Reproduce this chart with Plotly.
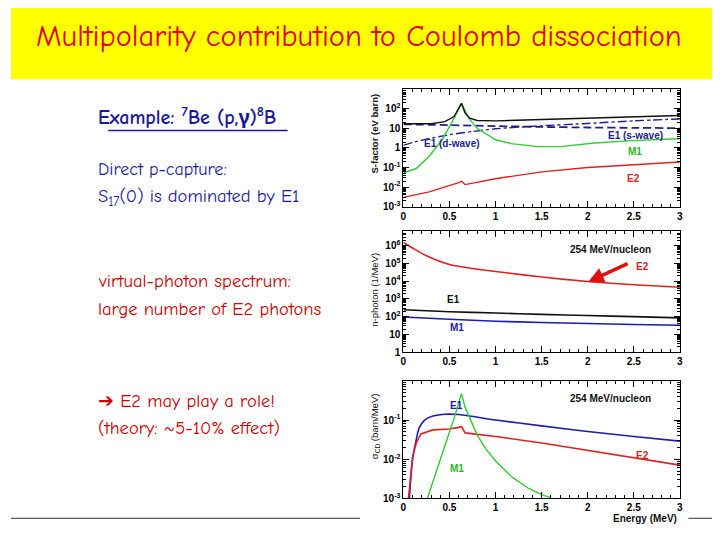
import plotly.graph_objects as go
import math

W, H = 720, 540

# ---------------- data ----------------
# Panel 1: S-factor (eV barn)
s_tot_E = [0, 0.3, 0.45, 0.55, 0.6, 0.63, 0.67, 0.72, 0.8, 1.0, 1.5, 2.0, 2.5, 3.0]
s_tot = [17, 17, 22, 40, 105, 186, 59, 33, 25, 24, 28, 33, 38, 45]
s_E1s_E = [0, 0.5, 1.0, 1.5, 2.0, 2.5, 3.0]
s_E1s = [16, 14.5, 13, 11.8, 11, 10.6, 10.2]
s_E1d_E = [0, 0.1, 0.25, 0.5, 0.75, 1.0, 1.5, 2.0, 2.5, 3.0]
s_E1d = [1.35, 1.9, 2.8, 4.7, 6.9, 9.5, 13.5, 17.7, 24, 30]
s_M1_E = [0, 0.14, 0.28, 0.42, 0.53, 0.58, 0.63, 0.71, 0.8, 1.0, 1.17, 1.46, 1.71, 2.07, 2.43, 2.96, 3.0]
s_M1 = [0.054, 0.089, 0.38, 2.6, 22, 71, 186, 33, 10, 2.6, 1.66, 1.17, 1.17, 1.78, 2.3, 2.95, 2.97]
s_E2_E = [0, 0.28, 0.6, 0.63, 0.67, 0.8, 1.0, 1.5, 2.0, 2.5, 3.0]
s_E2 = [0.0030, 0.0057, 0.017, 0.020, 0.0135, 0.018, 0.027, 0.06, 0.10, 0.14, 0.19]

# Panel 2: n-photon (1/MeV)
n_E2_E = [0, 0.1, 0.25, 0.5, 0.75, 1.0, 1.5, 2.0, 2.5, 3.0]
n_E2 = [1.5e6, 7.4e5, 2.7e5, 8.7e4, 5.2e4, 3.5e4, 1.7e4, 9.5e3, 6.3e3, 4.5e3]
n_E1_E = [0, 0.5, 1.0, 1.5, 2.0, 2.5, 3.0]
n_E1 = [245, 190, 160, 135, 115, 100, 85]
n_M1_E = [0, 0.5, 1.0, 1.5, 2.0, 2.5, 3.0]
n_M1 = [96, 71, 55, 47, 41, 36, 33]

# Panel 3: sigma_CD (barn/MeV)
c_E1_E = [0.065, 0.08, 0.1, 0.14, 0.17, 0.23, 0.32, 0.46, 0.6, 0.7, 1.0, 1.5, 2.0, 2.5, 3.0]
c_E1 = [0.001, 0.0032, 0.01, 0.032, 0.062, 0.1, 0.126, 0.141, 0.138, 0.129, 0.1, 0.071, 0.051, 0.038, 0.029]
c_E2_E = [0.055, 0.08, 0.1, 0.14, 0.19, 0.32, 0.5, 0.6, 0.63, 0.67, 0.78, 1.0, 1.5, 2.0, 2.5, 3.0]
c_E2 = [0.001, 0.0047, 0.012, 0.026, 0.044, 0.056, 0.059, 0.065, 0.068, 0.047, 0.044, 0.038, 0.026, 0.017, 0.011, 0.0071]
c_M1_E = [0.26, 0.35, 0.45, 0.55, 0.6, 0.63, 0.67, 0.73, 0.8, 0.89, 1.0, 1.18, 1.36, 1.5, 1.6]
c_M1 = [0.001, 0.0045, 0.022, 0.11, 0.28, 0.47, 0.21, 0.1, 0.042, 0.019, 0.009, 0.0035, 0.0018, 0.00126, 0.00105]

x_ticks = [0, 0.5, 1, 1.5, 2, 2.5, 3]
x_ticktext = ["0", "0.5", "1", "1.5", "2", "2.5", "3"]
y1_ticks = [1e-3, 1e-2, 1e-1, 1, 10, 100]
y1_ticktext = ["10<sup>-3</sup>", "10<sup>-2</sup>", "10<sup>-1</sup>", "1", "10", "10<sup>2</sup>"]
y2_ticks = [1, 10, 100, 1e3, 1e4, 1e5, 1e6]
y2_ticktext = ["1", "10", "10<sup>2</sup>", "10<sup>3</sup>", "10<sup>4</sup>", "10<sup>5</sup>", "10<sup>6</sup>"]
y3_ticks = [1e-3, 1e-2, 1e-1]
y3_ticktext = ["10<sup>-3</sup>", "10<sup>-2</sup>", "10<sup>-1</sup>"]

# ---------------- styling ----------------
BLACK = "#111111"
NAVY = "#22228a"
BLUE = "#1c1cb0"
GREEN = "#33cc33"
RED = "#dd2222"
TXT_BLUE = "#1a1a99"
TXT_RED = "#cc0000"
SLIDE_FONT = "Comic Sans MS, Comic Neue, Noto Sans, sans-serif"
AX_FONT = "Arial, Liberation Sans, sans-serif"


def px(x, y):
    return x / W, 1 - y / H


def minor_log(lo, hi):
    vals = []
    for d in range(lo, hi + 1):
        for k in range(2, 10):
            vals.append(k * 10 ** d)
    return vals


fig = go.Figure()


def add_line(x, y, color, xa, ya, dash="solid", width=1.6, shape="spline"):
    fig.add_trace(go.Scatter(x=x, y=y, mode="lines", xaxis=xa, yaxis=ya,
                             line=dict(color=color, width=width, dash=dash,
                                       shape=shape, smoothing=0.6),
                             showlegend=False, hoverinfo="skip"))


# panel 1
add_line(s_E1s_E, s_E1s, NAVY, "x", "y", dash="8px,4px", width=1.8)
add_line(s_E1d_E, s_E1d, NAVY, "x", "y", dash="dashdot", width=1.4)
add_line(s_M1_E, s_M1, GREEN, "x", "y", shape="linear", width=1.4)
add_line(s_E2_E, s_E2, RED, "x", "y", shape="linear", width=1.4)
add_line(s_tot_E, s_tot, BLACK, "x", "y", shape="linear", width=1.4)
# panel 2
add_line(n_E2_E, n_E2, RED, "x2", "y2", width=1.6)
add_line(n_E1_E, n_E1, BLACK, "x2", "y2", width=1.6)
add_line(n_M1_E, n_M1, BLUE, "x2", "y2", width=1.6)
# panel 3
add_line(c_E1_E, c_E1, BLUE, "x3", "y3", width=1.6)
add_line(c_E2_E, c_E2, RED, "x3", "y3", shape="linear", width=1.6)
add_line(c_M1_E, c_M1, GREEN, "x3", "y3", shape="linear", width=1.4)

x0, x1 = 395.7 / W, 674.5 / W
panels = [  # (top px, bottom px)
    (82, 201),
    (226, 348),
    (377, 496),
]

tickfont = dict(family=AX_FONT, size=10, color="black", weight="bold")
common_x = dict(range=[0, 3], domain=[x0, x1], showline=True, linecolor="black", linewidth=1,
                mirror="ticks", ticks="inside", ticklen=6, tickcolor="black",
                tickmode="array", tickvals=x_ticks, ticktext=x_ticktext,
                minor=dict(ticks="inside", ticklen=3, tickcolor="black", dtick=0.1, showgrid=False),
                showgrid=False, zeroline=False, tickfont=tickfont, fixedrange=True)

layout = dict(width=W, height=H, margin=dict(l=0, r=0, t=0, b=0),
              paper_bgcolor="white", plot_bgcolor="white", showlegend=False)

yranges = [[-3, 3], [0, 6.8], [-3, 0]]
yticks = [(y1_ticks, y1_ticktext, -3, 2), (y2_ticks, y2_ticktext, 0, 6), (y3_ticks, y3_ticktext, -3, -1)]
for i, (top, bot) in enumerate(panels):
    sfx = "" if i == 0 else str(i + 1)
    layout["xaxis" + sfx] = dict(common_x, anchor="y" + sfx)
    tv, tt, lo, hi = yticks[i]
    layout["yaxis" + sfx] = dict(type="log", range=yranges[i], domain=[1 - bot / H, 1 - top / H],
                                 anchor="x" + sfx, showline=True, linecolor="black", linewidth=1,
                                 mirror="ticks", ticks="inside", ticklen=6, tickcolor="black",
                                 tickmode="array", tickvals=tv, ticktext=tt,
                                 minor=dict(ticks="inside", ticklen=3, tickcolor="black",
                                            tickmode="array", tickvals=minor_log(lo, hi), showgrid=False),
                                 showgrid=False, zeroline=False, tickfont=tickfont, fixedrange=True)

fig.update_layout(**layout)

shapes = []
# yellow title band
shapes.append(dict(type="rect", xref="paper", yref="paper", x0=0, x1=1, y0=1 - 72 / H, y1=1,
                   fillcolor="#ffff00", line=dict(width=0), layer="below"))
# underline for example line
ux0, uy = px(98, 124)
ux1, _ = px(279, 124)
shapes.append(dict(type="line", xref="paper", yref="paper", x0=ux0, x1=ux1, y0=uy, y1=uy,
                   line=dict(color=TXT_BLUE, width=1.5)))
# slide rule line at bottom
ly = 1 - 516 / H
shapes.append(dict(type="line", xref="paper", yref="paper", x0=0, x1=352 / W, y0=ly, y1=ly,
                   line=dict(color="#333333", width=1)))
shapes.append(dict(type="line", xref="paper", yref="paper", x0=683 / W, x1=1, y0=ly, y1=ly,
                   line=dict(color="#333333", width=1)))
fig.update_layout(shapes=shapes)

ann = []


def text(t, x, y, color, size, family=SLIDE_FONT, xanchor="left", bold=False, angle=0, yanchor="middle"):
    xx, yy = px(x, y)
    ann.append(dict(text=t, x=xx, y=yy, xref="paper", yref="paper", showarrow=False,
                    xanchor=xanchor, yanchor=yanchor, textangle=angle,
                    font=dict(family=family, size=size, color=color, weight="bold" if bold else "normal")))


# title
text("Multipolarity contribution to Coulomb dissociation", 351, 29, "#e00000", 30.5, xanchor="center")
# left text
LX = 86
text("Example: <sup>7</sup>Be (p,γ)<sup>8</sup>B", LX, 109, TXT_BLUE, 20, bold=True)
text("Direct p-capture:", LX, 163, TXT_BLUE, 18)
text("S<sub>17</sub>(0) is dominated by E1", LX, 191, TXT_BLUE, 18.5)
text("virtual-photon spectrum:", LX, 276, TXT_RED, 18.5)
text("large number of E2 photons", LX, 304, TXT_RED, 18.5)
text("➔ E2 may play a role!", LX, 397, TXT_RED, 18.5)
text("(theory: ~5-10% effect)", LX, 425, TXT_RED, 18.5)

# panel labels
text("E1 (d-wave)", 414, 137, NAVY, 10, family=AX_FONT, bold=True)
text("E1 (s-wave)", 600, 129, NAVY, 10, family=AX_FONT, bold=True)
text("M1", 620, 145, "#22bb22", 10, family=AX_FONT, bold=True)
text("E2", 619, 172, RED, 10, family=AX_FONT, bold=True)

text("254 MeV/nucleon", 562, 244, BLACK, 10, family=AX_FONT, bold=True)
text("E2", 628, 261, RED, 10, family=AX_FONT, bold=True)
text("E1", 438, 295, BLACK, 10, family=AX_FONT, bold=True)
text("M1", 441, 323, BLUE, 10, family=AX_FONT, bold=True)

text("254 MeV/nucleon", 562, 395, BLACK, 10, family=AX_FONT, bold=True)
text("E1", 441, 402, BLUE, 10, family=AX_FONT, bold=True)
text("E2", 628, 453, RED, 10, family=AX_FONT, bold=True)
text("M1", 441, 466, "#22bb22", 10, family=AX_FONT, bold=True)

text("Energy (MeV)", 674, 516, BLACK, 10, family=AX_FONT, bold=True, xanchor="right")

# y-axis titles
text("S-factor (eV barn)", 367, 127, BLACK, 9.5, family=AX_FONT, bold=True, xanchor="center", angle=-90)
text("n-photon (1/MeV)", 367, 285, BLACK, 9.5, family=AX_FONT, xanchor="center", angle=-90)
text("σ<sub>CD</sub> (barn/MeV)", 367, 423, BLACK, 9.5, family=AX_FONT, xanchor="center", angle=-90)

# arrow in panel 2
ax_tip, ay_tip = px(582, 277)
ann.append(dict(x=ax_tip, y=ay_tip, xref="paper", yref="paper", ax=41, ay=-19,
                axref="pixel", ayref="pixel", showarrow=True, arrowhead=2, arrowsize=0.9,
                arrowwidth=3.5, arrowcolor="#e01010", text=""))

fig.update_layout(annotations=ann)
fig.write_html("out.html")
